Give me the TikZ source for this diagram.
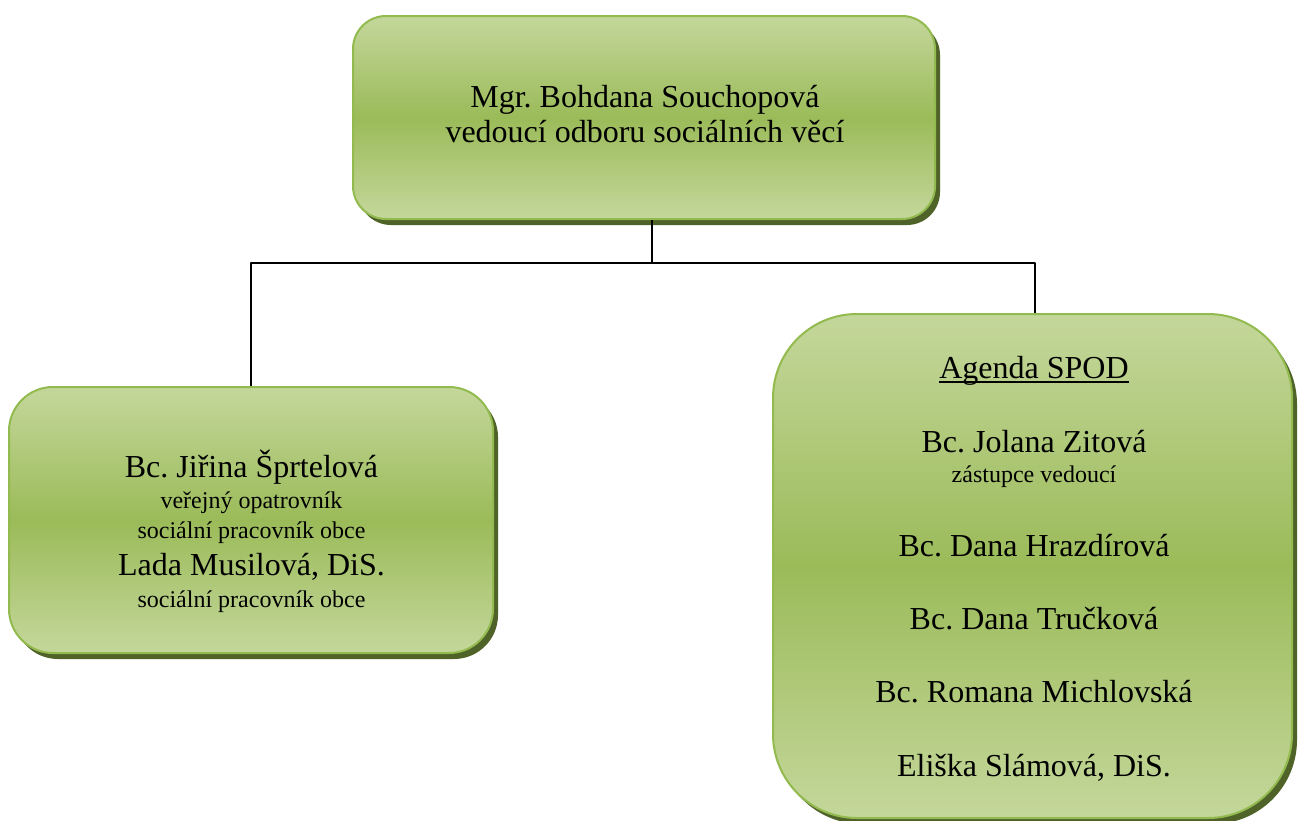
\documentclass[tikz,border=0pt]{standalone}
\usepackage{fontspec}
\setmainfont{Liberation Serif}
\usetikzlibrary{shadows}
\frenchspacing

\definecolor{boxlight}{RGB}{196,215,155}
\definecolor{boxmid}{RGB}{155,187,89}
\definecolor{boxedge}{RGB}{146,186,78}
\definecolor{boxshadow}{RGB}{79,98,40}

\newcommand{\bigtext}{\fontsize{32}{38}\selectfont}
\newcommand{\smalltext}{\fontsize{24}{28}\selectfont}
% underline close to the baseline, as the original has it
\newcommand{\lowline}[1]{\setbox0\hbox{#1}\rlap{\rule[-4.5pt]{\wd0}{1.6pt}}\box0}

\tikzset{
  orgbox/.style={rectangle, draw=boxedge, line width=2pt, inner sep=0pt,
    top color=boxlight, bottom color=boxlight, middle color=boxmid,
    drop shadow={shadow xshift=5pt, shadow yshift=-6pt, fill=boxshadow, opacity=1}},
  name line/.style={anchor=base, inner sep=0pt, font=\bigtext},
  wire/.style={black, line width=1.6pt}
}

\begin{document}
\begin{tikzpicture}[
  x=1pt, y=-1pt, % one unit = one pixel, y grows downward
  line join=round
]
  \useasboundingbox (0,0) rectangle (1298,820);
  \fill[white] (0,0) rectangle (1298,820);

  % ---- boxes ----
  \node[orgbox, rounded corners=33pt, minimum width=582pt, minimum height=203pt] (boss) at (644,117.5) {};
  \node[orgbox, rounded corners=44pt, minimum width=484pt, minimum height=266pt] (opatr) at (251,520) {};
  \node[orgbox, rounded corners=84pt, minimum width=519pt, minimum height=504pt] (spod) at (1032.5,566) {};

  % ---- connectors ----
  \coordinate (fork) at ([xshift=8pt]boss.south |- 0,263);
  \draw[wire] ([xshift=8pt]boss.south) -- (fork);
  \draw[wire] (opatr.north) |- (fork) -| ([xshift=2.5pt]spod.north);

  % ---- texts, one line each, at their baselines ----
  \foreach \y/\txt [count=\i] in {
    107/{Mgr. Bohdana Souchopová},
    142/{vedoucí odboru sociálních věcí}
  }{
    \node[name line] (boss-\i) at (645,\y) {\txt};
  }

  \foreach \y/\txt [count=\i] in {
    477/{Bc. Jiřina Šprtelová},
    508/{\smalltext veřejný opatrovník},
    538/{\smalltext sociální pracovník obce},
    575/{Lada Musilová, DiS.},
    607/{\smalltext sociální pracovník obce}
  }{
    \node[name line] (opatr-\i) at (251.5,\y) {\txt};
  }

  \foreach \y/\txt [count=\i] in {
    378/{\lowline{Agenda SPOD}},
    452/{Bc. Jolana Zitová},
    482/{\smalltext zástupce vedoucí},
    556/{Bc. Dana Hrazdírová},
    629/{Bc. Dana Tručková},
    702/{Bc. Romana Michlovská},
    776/{Eliška Slámová, DiS.}
  }{
    \node[name line] (spod-\i) at (1034,\y) {\txt};
  }

\end{tikzpicture}
\end{document}
